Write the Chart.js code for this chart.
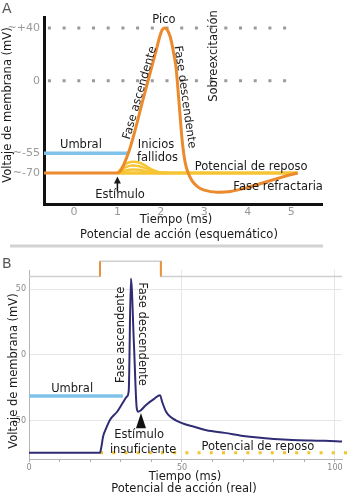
<!DOCTYPE html>
<html lang="es">
<head>
<meta charset="utf-8">
<title>Potencial de acción</title>
<script src="https://cdn.jsdelivr.net/npm/chart.js"></script>
<style>
  body { margin: 0; background: #fff; }
  #wrap { position: relative; width: 350px; height: 498px; }
  canvas { position: absolute; left: 0; }
  #chartA { top: 0; }
  #chartB { top: 250px; }
</style>
</head>
<body>
<div id="wrap">
  <canvas id="chartA" width="350" height="250"></canvas>
  <canvas id="chartB" width="350" height="248"></canvas>
</div>
<script>
// Panel A: potencial de acción esquemático
const tiempoA  = [-0.69, 1.0, 1.25, 1.6, 1.9, 1.97, 2.03, 2.08, 2.14, 2.22, 2.3, 2.35, 2.42, 2.49, 2.56, 2.63, 2.72, 2.85, 3.0, 3.3, 3.6, 4.0, 4.4, 4.8, 5.15];
const voltajeA = [-70, -70, -55, -13, 24, 33, 38.5, 40, 39, 33, 20, 10, -17, -45, -62, -70, -76, -80.5, -83, -84.5, -84, -81, -77, -73, -70];

// Inicios fallidos (tres intentos bajo el umbral)
const fallidoX = [1.0, 1.1, 1.2, 1.35, 1.5, 1.65, 1.8, 1.95, 2.15];
const fallido1 = [-70, -66, -63, -61.5, -62, -64.5, -67.5, -69.3, -70];
const fallido2 = [-70, -67.5, -65.5, -64.3, -64.8, -66.5, -68.5, -69.7, -70];
const fallido3 = [-70, -69, -68, -67.3, -67.6, -68.6, -69.6, -70, -70];

const umbralA = -55;
const reposoA = -70;
const finUmbralA = 1.25;
const reposoDesdeA = 1.0;
const reposoHastaA = 5.15;
const nivelesPunteados = [40, 0];
const punteadoX = [-0.6, 5.15];

const ticksAX = [0, 1, 2, 3, 4, 5];
const ticksAY = [40, 0, -55, -70];
const etiquetasAY = ['~+40', '0', '~-55', '~-70'];

// Panel B: potencial de acción real
const tiempoB  = [0, 23.2, 23.7, 24.2, 25.3, 26.5, 28.8, 30.7, 32, 32.6, 33.3, 34.3, 35.2, 35.7, 36.5, 38, 39.5, 41, 42.8, 43.6, 44.8, 46.3, 48, 51, 54.2, 58, 64, 70, 74.8, 80, 86, 92, 96.7, 102.3];
const voltajeB = [-74, -74, -69, -62, -55, -49, -43, -36, -31.5, -27, 58, 8, -40, -43, -42, -38.5, -35.5, -33, -30.5, -36, -43, -47, -49.5, -52.5, -54.5, -57, -59, -61.3, -62.6, -63.6, -64.4, -64.8, -65, -65.5];

// traza del estímulo (arriba del gráfico)
const estimuloX = [0, 23.2, 23.2, 43.1, 43.1, 102.3];
const estimuloY = [59.5, 59.5, 71, 71, 59.5, 59.5];

const umbralB = -31;
const finUmbralB = 30.7;
const reposoB = -74;
const reposoDesdeB = 23.2;
const reposoHastaB = 105;

const ticksBX = [0, 10, 20, 30, 40, 50, 60, 70, 80, 90, 100];
const ticksBY = [-50, 0, 50];

const pares = (xs, ys) => xs.map((x, i) => ({ x: x, y: ys[i] }));

Chart.defaults.font.family = '"DejaVu Sans", sans-serif';
Chart.defaults.animation = false;

const FUENTE = '11.5px "DejaVu Sans"';

function escribir(ctx, texto, px, py, rot, align) {
  ctx.save();
  ctx.translate(px, py);
  ctx.rotate((rot || 0) * Math.PI / 180);
  ctx.textAlign = align || 'center';
  ctx.textBaseline = 'middle';
  ctx.fillText(texto, 0, 0);
  ctx.restore();
}

function textosPlugin(textos, extra) {
  return {
    id: 'textos',
    afterDatasetsDraw(chart) {
      const { ctx, scales: { x, y } } = chart;
      ctx.save();
      ctx.fillStyle = '#1a1a1a';
      ctx.font = FUENTE;
      textos.forEach(t => {
        escribir(ctx, t.t, x.getPixelForValue(t.x), y.getPixelForValue(t.y), t.rot, t.align);
      });
      if (extra) extra(chart, ctx, x, y);
      ctx.restore();
    }
  };
}

// ---------- Panel A ----------
const textosA = [
  { t: 'Pico', x: 2.07, y: 46.1 },
  { t: 'Fase ascendente', x: 1.52, y: -9.3, rot: -74 },
  { t: 'Fase descendente', x: 2.55, y: -12.4, rot: 82 },
  { t: 'Sobreexcitación', x: 3.22, y: 18.8, rot: -90 },
  { t: 'Inicios', x: 1.47, y: -48.8, align: 'left' },
  { t: 'fallidos', x: 1.45, y: -58.6, align: 'left' },
  { t: 'Umbral', x: 0.16, y: -48.8 },
  { t: 'Estímulo', x: 1.06, y: -86.7 },
  { t: 'Potencial de reposo', x: 4.08, y: -65.5 },
  { t: 'Fase refractaria', x: 4.70, y: -80.6 }
];

new Chart(document.getElementById('chartA'), {
  type: 'line',
  data: {
    datasets: [
      { data: pares(tiempoA, voltajeA), borderColor: '#ec8a2e', borderWidth: 3, cubicInterpolationMode: 'monotone' },
      { data: pares([reposoDesdeA, reposoHastaA], [reposoA, reposoA]), borderColor: '#f6c534', borderWidth: 3.5 },
      { data: pares(fallidoX, fallido1), borderColor: '#f6c534', borderWidth: 2.5, cubicInterpolationMode: 'monotone' },
      { data: pares(fallidoX, fallido2), borderColor: '#f6c534', borderWidth: 2.5, cubicInterpolationMode: 'monotone' },
      { data: pares(fallidoX, fallido3), borderColor: '#f6c534', borderWidth: 2.5, cubicInterpolationMode: 'monotone' },
      { data: pares([-0.69, finUmbralA], [umbralA, umbralA]), borderColor: '#7fc2ea', borderWidth: 3.5 },
      { data: pares(punteadoX, [nivelesPunteados[0], nivelesPunteados[0]]), borderColor: '#9a9a9a', borderWidth: 3, borderDash: [3, 11.7] },
      { data: pares(punteadoX, [nivelesPunteados[1], nivelesPunteados[1]]), borderColor: '#9a9a9a', borderWidth: 3, borderDash: [3, 11.7] }
    ]
  },
  options: {
    responsive: false,
    devicePixelRatio: 1,
    layout: { padding: { top: 17, right: 28, left: 0, bottom: 0 } },
    elements: { point: { radius: 0 } },
    plugins: { legend: { display: false }, tooltip: { enabled: false } },
    scales: {
      x: {
        type: 'linear', min: -0.69, max: 5.71,
        afterBuildTicks: s => { s.ticks = ticksAX.map(v => ({ value: v })); },
        afterFit: s => { s.height = 46; },
        grid: { display: false, drawTicks: false },
        border: { display: true, color: '#111', width: 3 },
        ticks: { color: '#999', font: { size: 11 }, padding: 2 }
      },
      y: {
        type: 'linear', min: -93.5, max: 48.35,
        afterBuildTicks: s => { s.ticks = ticksAY.map(v => ({ value: v })); },
        afterFit: s => { s.width = 44; },
        grid: { display: false, drawTicks: false },
        border: { display: true, color: '#111', width: 3 },
        ticks: { color: '#999', font: { size: 11 }, padding: 4, callback: v => etiquetasAY[ticksAY.indexOf(v)] }
      }
    }
  },
  plugins: [textosPlugin(textosA, (chart, ctx, x, y) => {
    // flecha del estímulo
    const ax = x.getPixelForValue(reposoDesdeA);
    const punta = y.getPixelForValue(reposoA) + 3.5;
    ctx.strokeStyle = '#111';
    ctx.lineWidth = 1.5;
    ctx.beginPath();
    ctx.moveTo(ax, punta + 15);
    ctx.lineTo(ax, punta + 4);
    ctx.stroke();
    ctx.beginPath();
    ctx.moveTo(ax, punta);
    ctx.lineTo(ax - 3.5, punta + 7);
    ctx.lineTo(ax + 3.5, punta + 7);
    ctx.closePath();
    ctx.fill();
    // títulos
    escribir(ctx, 'Voltaje de membrana (mV)', 8, 105, -90);
    escribir(ctx, 'Tiempo (ms)', 176, 220);
    escribir(ctx, 'Potencial de acción (esquemático)', 179, 235);
    ctx.fillStyle = '#555';
    ctx.font = '14px "DejaVu Sans"';
    escribir(ctx, 'A', 2, 9, 0, 'left');
    // separador
    ctx.strokeStyle = '#d2d2d2';
    ctx.lineWidth = 3;
    ctx.beginPath();
    ctx.moveTo(10, 246);
    ctx.lineTo(323, 246);
    ctx.stroke();
  })]
});

// ---------- Panel B ----------
const textosB = [
  { t: 'Fase ascendente', x: 30.1, y: 15.2, rot: -90 },
  { t: 'Fase descendente', x: 36.9, y: 15.9, rot: 90 },
  { t: 'Umbral', x: 14.1, y: -25.8 },
  { t: 'Estímulo', x: 36.0, y: -60.6 },
  { t: 'insuficiente', x: 37.3, y: -72 },
  { t: 'Potencial de reposo', x: 74.8, y: -69.7 }
];

new Chart(document.getElementById('chartB'), {
  type: 'line',
  data: {
    datasets: [
      { data: pares(tiempoB, voltajeB), borderColor: '#2f2c74', borderWidth: 2, cubicInterpolationMode: 'monotone' },
      { data: pares([0, finUmbralB], [umbralB, umbralB]), borderColor: '#7fc2ea', borderWidth: 3.5 },
      { data: pares([reposoDesdeB, reposoHastaB], [reposoB, reposoB]), borderColor: '#f3c330', borderWidth: 3, borderDash: [3, 9.2], clip: false },
      { data: pares(estimuloX.slice(1, 3), estimuloY.slice(1, 3)), borderColor: '#e8923a', borderWidth: 2, clip: false },
      { data: pares(estimuloX.slice(3, 5), estimuloY.slice(3, 5)), borderColor: '#e8923a', borderWidth: 2, clip: false },
      { data: pares(estimuloX, estimuloY), borderColor: '#cfcfcf', borderWidth: 1.5, clip: false }
    ]
  },
  options: {
    responsive: false,
    devicePixelRatio: 1,
    layout: { padding: { top: 20, right: 8, left: 0, bottom: 0 } },
    elements: { point: { radius: 0 } },
    plugins: { legend: { display: false }, tooltip: { enabled: false } },
    scales: {
      x: {
        type: 'linear', min: 0, max: 102.3,
        afterBuildTicks: s => { s.ticks = ticksBX.map(v => ({ value: v })); },
        afterFit: s => { s.height = 39; },
        grid: {
          color: c => (c.tick && c.tick.value % 50 === 0) ? '#e6e6e6' : 'rgba(0,0,0,0)',
          tickColor: '#aaa', tickLength: 3
        },
        border: { display: true, color: '#b5b5b5', width: 1 },
        ticks: { color: '#888', font: { size: 8 }, padding: 1, maxRotation: 0, autoSkip: false,
                 callback: v => (v % 50 === 0 ? String(v) : '') }
      },
      y: {
        type: 'linear', min: -78.8, max: 64.4,
        afterBuildTicks: s => { s.ticks = ticksBY.map(v => ({ value: v })); },
        afterFit: s => { s.width = 29; },
        grid: { color: '#e6e6e6', drawTicks: false },
        border: { display: true, color: '#b5b5b5', width: 1 },
        ticks: { color: '#888', font: { size: 8 }, padding: 3 }
      }
    }
  },
  plugins: [textosPlugin(textosB, (chart, ctx, x, y) => {
    // flecha del estímulo insuficiente
    const ax = x.getPixelForValue(36.6);
    const punta = y.getPixelForValue(-44);
    const base = y.getPixelForValue(-55.5);
    ctx.fillStyle = '#111';
    ctx.beginPath();
    ctx.moveTo(ax, punta);
    ctx.lineTo(ax - 5, base);
    ctx.lineTo(ax + 5, base);
    ctx.closePath();
    ctx.fill();
    ctx.fillStyle = '#1a1a1a';
    escribir(ctx, 'Voltaje de membrana (mV)', 14, 121, -90);
    escribir(ctx, 'Tiempo (ms)', 185, 227);
    escribir(ctx, 'Potencial de acción (real)', 184, 239);
    ctx.fillStyle = '#555';
    ctx.font = '14px "DejaVu Sans"';
    escribir(ctx, 'B', 2, 14, 0, 'left');
  })]
});
</script>
</body>
</html>
